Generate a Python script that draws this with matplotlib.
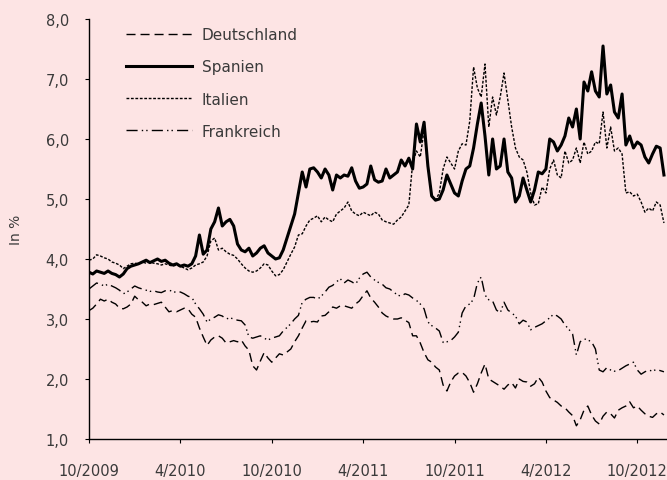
import matplotlib
matplotlib.use("Agg")
import matplotlib.pyplot as plt
import numpy as np

# time grid: quarter-month steps starting 10/2009 (value = months since 10/2009)
step = 0.25

tick_labels = ["10/2009", "4/2010", "10/2010", "4/2011", "10/2011", "4/2012", "10/2012"]
tick_months = [0, 6, 12, 18, 24, 30, 36]

deutschland = [3.14, 3.18, 3.25, 3.33, 3.30, 3.33, 3.28, 3.25, 3.18, 3.17, 3.20, 3.25, 3.38, 3.32, 3.28, 3.22,
               3.25, 3.24, 3.26, 3.28, 3.20, 3.12, 3.14, 3.12, 3.15, 3.18, 3.17, 3.08, 3.03, 2.85, 2.70, 2.56,
               2.65, 2.70, 2.72, 2.68, 2.60, 2.62, 2.64, 2.62, 2.65, 2.55, 2.48, 2.22, 2.15, 2.30, 2.44, 2.35,
               2.28, 2.35, 2.42, 2.40, 2.45, 2.50, 2.62, 2.72, 2.85, 2.97, 2.95, 2.96, 2.95, 3.05, 3.06, 3.12,
               3.20, 3.18, 3.22, 3.22, 3.20, 3.18, 3.25, 3.30, 3.39, 3.47, 3.35, 3.28, 3.20, 3.10, 3.05, 3.02,
               3.00, 3.00, 3.02, 2.98, 2.94, 2.72, 2.72, 2.60, 2.44, 2.32, 2.28, 2.20, 2.15, 1.90, 1.80, 1.95,
               2.05, 2.10, 2.11, 2.05, 1.94, 1.78, 1.92, 2.10, 2.25, 2.00, 1.96, 1.92, 1.88, 1.83, 1.90, 1.94,
               1.85, 2.00, 1.96, 1.95, 1.88, 1.92, 2.03, 1.95, 1.80, 1.69, 1.65, 1.61, 1.55, 1.52, 1.45, 1.39,
               1.22, 1.32, 1.48, 1.55, 1.40, 1.30, 1.25, 1.38, 1.45, 1.42, 1.35, 1.48, 1.52, 1.55, 1.62, 1.52,
               1.55, 1.48, 1.42, 1.38, 1.36, 1.42, 1.45, 1.40]

spanien = [3.78, 3.75, 3.80, 3.78, 3.76, 3.80, 3.76, 3.74, 3.70, 3.75, 3.84, 3.88, 3.90, 3.92, 3.95, 3.98,
           3.94, 3.97, 4.00, 3.96, 3.98, 3.93, 3.90, 3.92, 3.88, 3.90, 3.88, 3.92, 4.05, 4.40, 4.08, 4.15,
           4.50, 4.62, 4.85, 4.55, 4.62, 4.66, 4.55, 4.25, 4.15, 4.12, 4.18, 4.05, 4.10, 4.18, 4.22, 4.10,
           4.05, 4.00, 4.02, 4.15, 4.35, 4.55, 4.75, 5.10, 5.45, 5.20, 5.50, 5.52, 5.45, 5.35, 5.50, 5.40,
           5.15, 5.40, 5.35, 5.40, 5.38, 5.52, 5.30, 5.18, 5.20, 5.25, 5.55, 5.32, 5.28, 5.30, 5.50, 5.35,
           5.40, 5.45, 5.65, 5.55, 5.68, 5.50, 6.25, 5.95, 6.28, 5.55, 5.05, 4.98, 5.00, 5.15, 5.40, 5.25,
           5.10, 5.05, 5.30, 5.50, 5.55, 5.85, 6.25, 6.60, 6.05, 5.40, 6.00, 5.50, 5.55, 6.00, 5.45, 5.35,
           4.95, 5.05, 5.35, 5.15, 4.95, 5.15, 5.45, 5.42, 5.50, 6.00, 5.95, 5.80, 5.90, 6.05, 6.35, 6.20,
           6.50, 6.00, 6.95, 6.80, 7.12, 6.80, 6.70, 7.55, 6.75, 6.90, 6.45, 6.35, 6.75, 5.90, 6.05, 5.85,
           5.95, 5.90, 5.70, 5.60, 5.75, 5.88, 5.85, 5.40]

italien = [3.98, 4.00, 4.07, 4.05, 4.02, 4.00, 3.95, 3.93, 3.90, 3.84, 3.88, 3.92, 3.93, 3.92, 3.95, 3.93,
           3.95, 3.93, 3.92, 3.90, 3.92, 3.90, 3.88, 3.90, 3.88, 3.85, 3.82, 3.85, 3.90, 3.92, 3.95, 4.05,
           4.30, 4.35, 4.15, 4.18, 4.12, 4.08, 4.06, 4.00, 3.92, 3.85, 3.80, 3.78, 3.80, 3.85, 3.92, 3.90,
           3.80, 3.72, 3.74, 3.82, 3.95, 4.08, 4.20, 4.40, 4.42, 4.55, 4.65, 4.68, 4.72, 4.62, 4.70, 4.65,
           4.62, 4.75, 4.80, 4.85, 4.95, 4.80, 4.75, 4.72, 4.78, 4.75, 4.72, 4.78, 4.75, 4.65, 4.62, 4.60,
           4.58, 4.65, 4.70, 4.80, 4.90, 5.60, 5.80, 5.70, 6.15, 5.55, 5.05, 4.98, 5.10, 5.50, 5.70, 5.60,
           5.50, 5.80, 5.92, 5.90, 6.30, 7.20, 6.85, 6.70, 7.25, 6.20, 6.70, 6.40, 6.70, 7.10, 6.65, 6.20,
           5.85, 5.70, 5.65, 5.45, 5.10, 4.90, 4.92, 5.20, 5.10, 5.50, 5.65, 5.40, 5.35, 5.80, 5.60, 5.65,
           5.85, 5.60, 5.95, 5.75, 5.80, 5.95, 5.92, 6.45, 5.85, 6.20, 5.80, 5.85, 5.75, 5.10, 5.12, 5.05,
           5.08, 4.95, 4.78, 4.85, 4.80, 4.95, 4.90, 4.60]

frankreich = [3.50, 3.55, 3.60, 3.58, 3.55, 3.58, 3.55, 3.52, 3.48, 3.42, 3.45, 3.50, 3.55, 3.52, 3.50, 3.48,
              3.46, 3.47, 3.45, 3.44, 3.47, 3.48, 3.46, 3.44, 3.45, 3.42, 3.38, 3.36, 3.25, 3.17, 3.08, 2.95,
              3.00, 3.03, 3.07, 3.05, 3.00, 3.02, 3.00, 2.98, 2.97, 2.90, 2.70, 2.68, 2.70, 2.72, 2.68, 2.65,
              2.68, 2.70, 2.72, 2.80, 2.86, 2.92, 3.00, 3.06, 3.28, 3.33, 3.36, 3.36, 3.33, 3.38, 3.45, 3.53,
              3.56, 3.62, 3.67, 3.60, 3.65, 3.62, 3.58, 3.68, 3.75, 3.78, 3.70, 3.65, 3.61, 3.58, 3.52, 3.50,
              3.45, 3.40, 3.38, 3.42, 3.40, 3.35, 3.31, 3.25, 3.17, 2.95, 2.89, 2.85, 2.80, 2.61, 2.62, 2.64,
              2.70, 2.78, 3.10, 3.22, 3.25, 3.33, 3.60, 3.70, 3.40, 3.32, 3.30, 3.15, 3.10, 3.28, 3.15, 3.10,
              3.05, 2.92, 2.98, 2.95, 2.82, 2.86, 2.89, 2.92, 2.97, 3.02, 3.08, 3.05, 3.00, 2.90, 2.83, 2.75,
              2.40, 2.62, 2.67, 2.65, 2.62, 2.50, 2.15, 2.12, 2.19, 2.15, 2.13, 2.14, 2.18, 2.22, 2.25, 2.28,
              2.15, 2.08, 2.12, 2.15, 2.13, 2.16, 2.14, 2.12]

t = np.arange(len(spanien)) * step

bg = "#fde4e4"
txt = "#3a3a3a"

fig = plt.figure(figsize=(6.67, 4.81), dpi=100, facecolor=bg)
ax = fig.add_axes([89 / 667, 1 - 440 / 481, 578 / 667, 420 / 481])
ax.set_facecolor(bg)

ax.plot(t, deutschland, color="black", lw=1.0, linestyle=(0, (6.5, 3.6)), label="Deutschland")
ax.plot(t, spanien, color="black", lw=2.2, linestyle="-", label="Spanien")
ax.plot(t, italien, color="black", lw=1.0, linestyle=(0, (2, 1.2)), label="Italien")
ax.plot(t, frankreich, color="black", lw=1.0, linestyle=(0, (8, 3, 1, 2.2, 1, 3)), label="Frankreich")

ax.set_xlim(0, 37.95)
ax.set_ylim(1.0, 8.0)
ax.set_xticks(tick_months)
ax.set_xticklabels(tick_labels)
yt = np.arange(1, 9)
ax.set_yticks(yt)
ax.set_yticklabels([f"{v:.1f}".replace(".", ",") for v in yt])

for s in ["top", "right"]:
    ax.spines[s].set_visible(False)
for s in ["left", "bottom"]:
    ax.spines[s].set_color("black")
    ax.spines[s].set_linewidth(1.0)

ax.tick_params(axis="both", direction="out", length=3, width=0.8, colors="black",
               labelcolor=txt, labelsize=10.5)
ax.tick_params(axis="x", pad=14.5)
ax.tick_params(axis="y", pad=11.5)

ax.set_ylabel("In %", color=txt, fontsize=10)
ax.yaxis.set_label_coords((23.5 - 89) / 578, 0.5)

leg = ax.legend(loc="upper left", bbox_to_anchor=(37 / 578, 1 - 8 / 420), frameon=False,
                borderpad=0, borderaxespad=0,
                handlelength=4.3, handletextpad=0.65, labelspacing=1.13, fontsize=11)
for tx in leg.get_texts():
    tx.set_color(txt)

fig.savefig("out.png", dpi=100, facecolor=bg)
